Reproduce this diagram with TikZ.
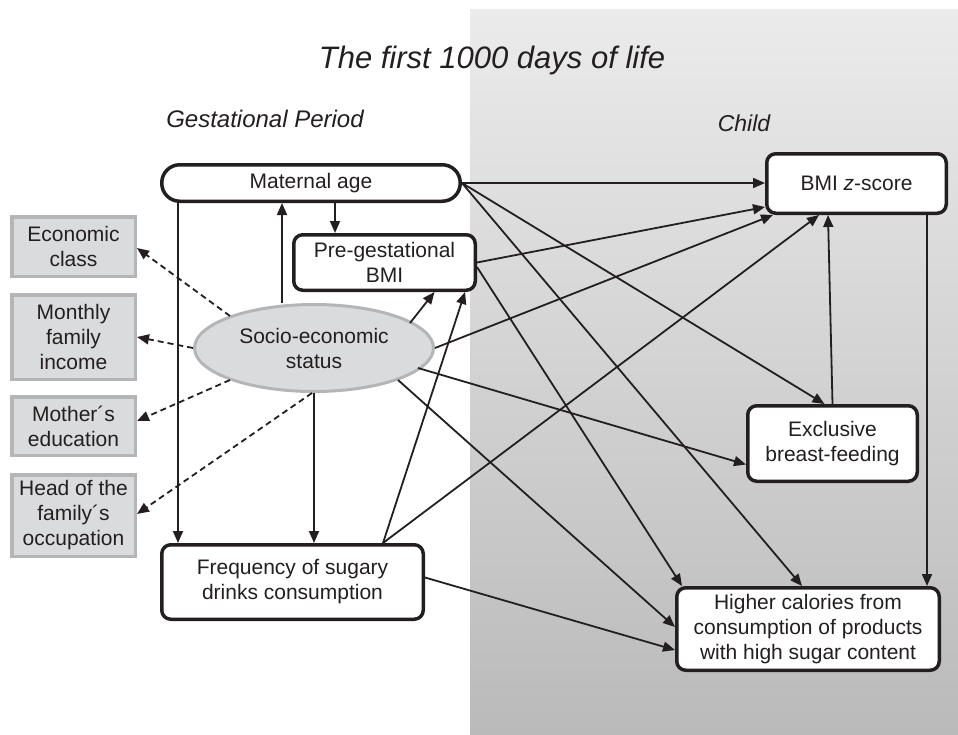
\documentclass[tikz,border=0pt]{standalone}
\usepackage{fontspec}
\setmainfont{Liberation Sans}
\usetikzlibrary{arrows.meta,shapes.geometric}
\definecolor{ink}{HTML}{231F20}
\definecolor{lbfill}{HTML}{DADBDD}
\definecolor{lbdraw}{HTML}{B4B5B7}
\definecolor{bgtop}{HTML}{EBEBEB}
\definecolor{bgbot}{HTML}{BABABA}
\begin{document}
\begin{tikzpicture}[x=1pt,y=-1pt,
  every node/.style={font=\fontsize{21}{25}\selectfont, text=ink, inner sep=0pt},
  mainbox/.style={draw=ink, fill=white, line width=3.5pt, rounded corners=9pt, align=center},
  sidebox/.style={draw=lbdraw, fill=lbfill, line width=3.5pt, align=center, minimum width=123.5pt},
  arr/.style={draw=ink, line width=1.8pt, -{Triangle[length=12pt,width=10pt]}},
  dsh/.style={arr, dash pattern=on 6pt off 4pt},
  heading/.style={font=\fontsize{24}{28}\selectfont\itshape, anchor=base}
]
\useasboundingbox (0,0) rectangle (958,734);
\shade[top color=bgtop, bottom color=bgbot] (470,9) rectangle (958,734);

\node[font=\fontsize{31}{36}\selectfont\itshape, anchor=base] (title) at (492,68) {The first 1000 days of life};
\node[heading] (gest) at (265,127) {Gestational Period};
\node[heading, font=\fontsize{23}{28}\selectfont\itshape] (child) at (744,131) {Child};

\node[mainbox, rounded corners=18pt, minimum width=298.5pt, minimum height=36.5pt] (mat) at (311,183) {Maternal age};
\node[mainbox, minimum width=181.5pt, minimum height=55.5pt] (pre) at (384.5,262.5) {Pre-gestational\\BMI};
\node[mainbox, minimum width=179.5pt, minimum height=59.5pt] (bmiz) at (856.5,183.5) {BMI \textit{z}-score};
\node[mainbox, minimum width=169.5pt, minimum height=75.5pt] (ebf) at (832.5,443.5) {Exclusive\\breast-feeding};
\node[mainbox, minimum width=262.5pt, minimum height=82.5pt] (hc) at (808,629) {Higher calories from\\consumption of products\\with high sugar content};
\node[mainbox, minimum width=261.5pt, minimum height=74.5pt] (freq) at (292.5,582) {Frequency of sugary\\drinks consumption};
\node[ellipse, draw=lbdraw, fill=lbfill, line width=3pt, minimum width=239pt, minimum height=87pt, align=center] (ses) at (314,348) {Socio-economic\\status};

\node[sidebox, minimum height=59.5pt] (ec) at (73.5,246.5) {Economic\\class};
\node[sidebox, minimum height=84.5pt] (mon) at (73.5,337) {Monthly\\family\\income};
\node[sidebox, minimum height=58.5pt] (mot) at (73.5,426) {Mother´s\\education};
\node[sidebox, minimum height=81.5pt] (head) at (73.5,515.5) {Head of the\\family´s\\occupation};

% solid connectors
\draw[arr] (mat.east) -- (mat.east -| bmiz.west);
\draw[arr] (mat.east) -- ([shift={(-8,0)}]ebf.north);
\draw[arr] (mat.east) -- ([shift={(-6,0)}]hc.north);
\draw[arr] ([shift={(24,0)}]mat.south) -- ([shift={(-49.5,0)}]pre.north);
\draw[arr] ([shift={(-32,0)}]ses.north) -- ([shift={(-29,0)}]mat.south);
\draw[arr] ([shift={(18,0)}]mat.south west) -- ([shift={(18,0)}]freq.north west);
\draw[arr] (ses.south) -- (ses.south |- freq.north);
\draw[arr] ([shift={(96,-25)}]ses.center) -- ([shift={(50,0)}]pre.south);
\draw[arr] ([shift={(90.5,0)}]freq.north) -- ([shift={(80.5,0)}]pre.south);
\draw[arr] ([shift={(90.5,0)}]freq.north) -- ([shift={(-37.5,0)}]bmiz.south);
\draw[arr] (pre.east) -- ([shift={(0,23.5)}]bmiz.west);
\draw[arr] (ses.east) -- ([shift={(8,0)}]bmiz.south west);
\draw[arr] (ebf.north) -- ([shift={(-28.5,0)}]bmiz.south);
\draw[arr] ([shift={(70.5,0)}]bmiz.south) -- ([shift={(119,0)}]hc.north);
\draw[arr] ([shift={(104,20)}]ses.center) -- ([shift={(0,21)}]ebf.west);
\draw[arr] ([shift={(84,32)}]ses.center) -- ([shift={(0,-2)}]hc.west);
\draw[arr] ([shift={(0,-4.5)}]freq.east) -- ([shift={(0,21)}]hc.west);
\draw[arr] ([shift={(0,4.5)}]pre.east) -- ([shift={(-126,0)}]hc.north);

% dashed connectors
\draw[dsh] ([shift={(-84,-32)}]ses.center) -- ([shift={(0,1.5)}]ec.east);
\draw[dsh] (ses.west) -- (mon.east);
\draw[dsh] ([shift={(-84,32)}]ses.center) -- ([shift={(0,-5)}]mot.east);
\draw[dsh] ([shift={(-2,0)}]ses.south) -- ([shift={(0,-1.5)}]head.east);
\end{tikzpicture}
\end{document}
